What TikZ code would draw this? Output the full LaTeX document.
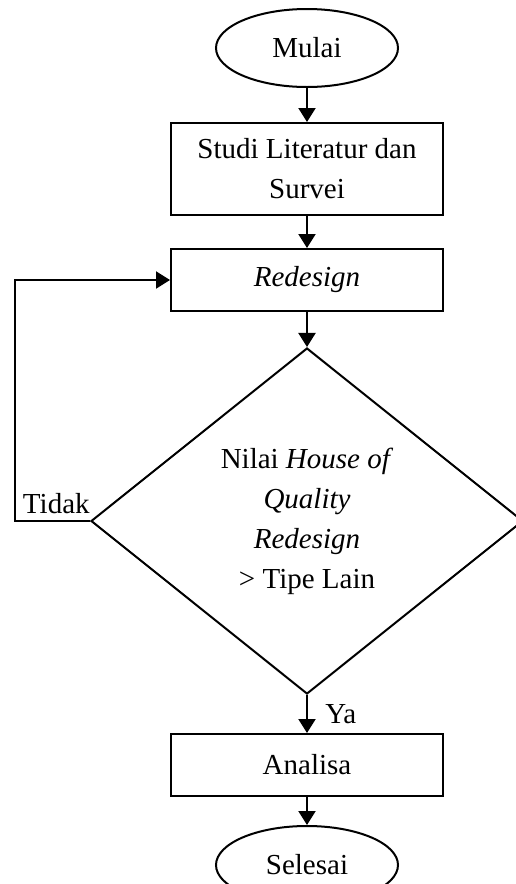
\documentclass[tikz,border=0pt]{standalone}
\usepackage{fontspec}
\setmainfont{Liberation Serif}
\usetikzlibrary{arrows.meta,positioning,shapes.geometric}

\begin{document}
\begin{tikzpicture}[->,>={Triangle[length=14pt,width=17pt]},x=1pt,y=-1pt,
  line width=2pt,node distance=34pt,font=\fontsize{29}{40}\selectfont,
  term node/.style={ellipse,draw,minimum width=182pt,minimum height=78pt,inner sep=0pt},
  proc node/.style={rectangle,draw,minimum width=272pt,minimum height=62pt,inner sep=0pt,align=center},
  cond node/.style={diamond,draw,minimum width=432pt,minimum height=346pt,inner sep=0pt,align=center}]

  \useasboundingbox (0,0) rectangle (516,884);

  \node[term node] (mulai) at (307,48) {Mulai};
  \node[proc node,minimum height=92pt] (studi) [below=of mulai] {Studi Literatur dan\\Survei};
  \node[proc node] (redesign) [below=32pt of studi] {\textit{Redesign}};
  \node[cond node] (nilai) [below=35pt of redesign] {Nilai \textit{House of}\\\textit{Quality}\\\textit{Redesign}\\> Tipe Lain};
  \node[proc node] (analisa) [below=38pt of nilai] {Analisa};
  \node[term node] (selesai) [below=28pt of analisa] {Selesai};
  \coordinate (back) at (15,513);

  \path (mulai) edge (studi)
        (studi) edge (redesign)
        (redesign) edge (nilai)
        (nilai) edge node[right=14pt] {Ya} (analisa)
        (analisa) edge (selesai);
  \draw (nilai.west) -- (nilai.west -| back) |- (redesign);
  \node[above right=4pt and 5pt,inner sep=2pt] (tidak) at (nilai.west -| back) {Tidak};

\end{tikzpicture}
\end{document}
